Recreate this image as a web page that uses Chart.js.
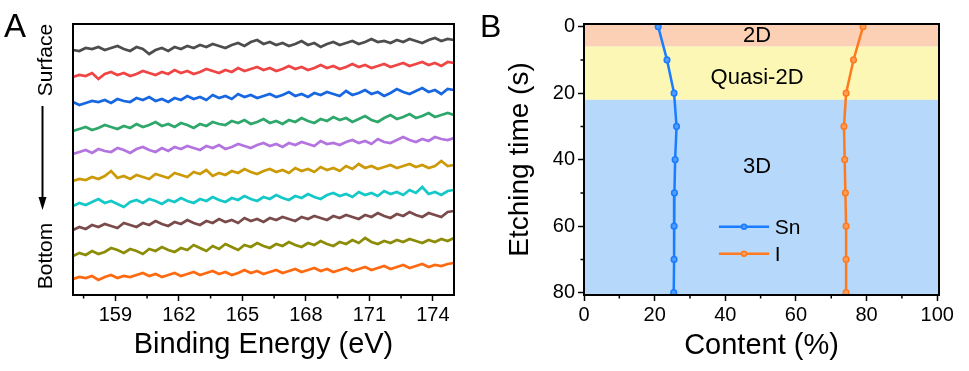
<!DOCTYPE html>
<html lang="en">
<head>
  <meta charset="UTF-8">
  <title>XPS depth profile</title>
  <script src="https://cdn.jsdelivr.net/npm/chart.js"></script>
  <style>
    body { margin: 0; background: #fff; }
    #wrap { position: relative; width: 969px; height: 371px; }
    #chartA { position: absolute; left: 0; top: 0; }
    #chartB { position: absolute; left: 480px; top: 0; }
  </style>
</head>
<body>
<div id="wrap">
  <canvas id="chartA" width="480" height="371"></canvas>
  <canvas id="chartB" width="489" height="371"></canvas>
</div>
<script>
  // ---- panel A: spectra from surface (layer1) to bottom (layer10), stacked, a.u.
  const energyStart = 157, energyStep = 0.3;
  const energyTicks = [159, 162, 165, 168, 171, 174];
  const energyMinor = [157.5, 160.5, 163.5, 166.5, 169.5, 172.5];

  const layer1 = [245,244,247,246,248,245,247,249,246,244,248,246,241,245,247,244,248,246,249,247,250,248,251,249,247,250,252,249,253,255,251,253,250,252,249,251,254,250,252,248,251,253,250,252,254,251,253,256,253,254,252,255,253,256,254,252,255,257,254,256,255];
  const layer2 = [218,220,219,222,216,221,223,220,222,219,221,224,222,220,223,221,225,222,224,221,223,226,224,222,225,223,227,224,226,228,225,227,224,226,229,226,228,225,227,230,227,229,226,228,231,228,230,227,229,231,228,230,232,229,231,233,230,232,229,233,232];
  const layer3 = [193,190,192,194,193,195,192,196,194,193,197,195,198,194,196,193,197,195,199,196,198,195,200,197,199,196,201,198,200,197,199,201,198,200,203,199,201,198,202,200,203,201,199,204,200,202,205,201,203,199,202,206,203,201,204,207,203,205,201,206,205];
  const layer4 = [164,166,168,165,167,170,168,166,169,167,171,168,170,173,169,171,168,172,170,167,171,169,173,171,170,174,172,175,171,173,176,172,174,171,175,173,177,174,172,176,174,178,175,177,173,176,179,175,173,177,180,176,178,181,177,179,182,178,180,182,180];
  const layer5 = [141,143,145,142,146,144,143,147,145,142,146,148,145,143,147,144,148,146,149,147,145,149,147,150,146,148,151,149,147,150,152,149,151,148,152,150,153,151,149,154,151,152,150,153,155,152,154,151,156,153,152,155,158,155,153,156,154,158,156,155,157];
  const layer6 = [114,116,115,118,116,119,124,117,119,116,120,118,116,121,119,117,122,120,118,123,121,125,119,122,120,124,122,126,123,121,124,126,123,125,122,127,124,126,123,128,125,127,124,129,126,131,127,129,126,128,130,127,129,131,128,130,127,129,134,129,130];
  const layer7 = [89,92,90,93,96,92,94,91,88,93,95,92,96,94,91,95,93,97,94,92,96,94,98,95,93,97,95,99,96,94,98,96,100,97,95,99,97,101,98,96,100,102,99,101,98,103,100,102,99,104,101,103,100,105,102,108,101,103,100,104,105];
  const layer8 = [65,68,66,70,68,71,69,67,72,70,68,72,70,74,71,69,73,71,75,72,70,74,72,76,73,75,72,77,74,76,73,77,75,78,76,74,78,76,79,77,75,79,77,80,78,76,80,78,82,79,77,81,79,83,80,78,82,80,78,83,84];
  const layer9 = [39,42,40,44,41,43,47,45,42,46,44,41,46,44,48,45,43,47,45,50,47,44,49,46,51,48,45,50,48,52,49,47,51,49,53,50,48,52,50,54,51,49,53,51,55,52,57,53,51,54,52,55,53,56,54,52,55,53,56,54,57];
  const layer10 = [16,18,17,19,15,18,20,17,19,18,20,22,19,21,18,20,22,19,21,23,20,22,24,21,23,20,22,25,22,24,21,23,25,22,24,26,23,25,27,24,26,23,25,27,24,26,28,25,27,29,26,28,30,27,29,31,28,30,29,31,32];

  const layers = [layer1, layer2, layer3, layer4, layer5, layer6, layer7, layer8, layer9, layer10];
  const layerColors = ['#4d4d4d', '#f04545', '#1767e0', '#2ea86a', '#b474e0',
                       '#cc9a06', '#14c8c8', '#7b4b4b', '#8c8c06', '#ff6a10'];

  // ---- panel B: composition vs etching time
  const etchTimes = [0, 10, 20, 30, 40, 50, 60, 70, 80];
  const snContent = [21, 23.5, 25.5, 26.2, 25.8, 25.6, 25.5, 25.5, 25.4];
  const iContent = [79, 76.3, 74.2, 73.6, 73.8, 74.0, 74.2, 74.2, 74.2];
  const contentTicks = [0, 20, 40, 60, 80, 100];
  const contentMinor = [10, 30, 50, 70, 90];
  const timeTicks = [0, 20, 40, 60, 80];
  const timeMinor = [10, 30, 50, 70];
  const bandEdges = [6, 22];
  const bandNames = ['2D', 'Quasi-2D', '3D'];
  const bandColors = ['#fbd0b4', '#fdf7b5', '#b5d8fb'];

  Chart.defaults.font.family = '"Liberation Sans", Arial, sans-serif';
  Chart.defaults.color = '#000';

  const minorTicks = {
    id: 'minorTicks',
    afterDraw(chart, args, opts) {
      const { ctx, chartArea: a, scales } = chart;
      ctx.save();
      ctx.strokeStyle = '#000';
      ctx.lineWidth = 1.5;
      ctx.beginPath();
      (opts.x || []).forEach(v => {
        const px = scales.x.getPixelForValue(v);
        ctx.moveTo(px, a.bottom); ctx.lineTo(px, a.bottom + 3.5);
      });
      (opts.y || []).forEach(v => {
        const py = scales.y.getPixelForValue(v);
        ctx.moveTo(a.left, py); ctx.lineTo(a.left - 3.5, py);
      });
      ctx.stroke();
      ctx.restore();
    }
  };

  const frame = {
    id: 'frame',
    afterDraw(chart) {
      const { ctx, chartArea: a } = chart;
      ctx.save();
      ctx.strokeStyle = '#000';
      ctx.lineWidth = 2;
      ctx.strokeRect(a.left, a.top, a.width, a.height);
      ctx.restore();
    }
  };

  const sideNotes = {
    id: 'sideNotes',
    afterDraw(chart) {
      const ctx = chart.ctx;
      ctx.save();
      ctx.fillStyle = '#000';
      ctx.font = '33px "Liberation Sans", Arial, sans-serif';
      ctx.textBaseline = 'alphabetic';
      ctx.fillText('A', 4, 37);
      ctx.font = '21px "Liberation Sans", Arial, sans-serif';
      ctx.textAlign = 'center';
      [['Surface', 60], ['Bottom', 256]].forEach(([t, yc]) => {
        ctx.save();
        ctx.translate(52, yc);
        ctx.rotate(-Math.PI / 2);
        ctx.fillText(t, 0, 0);
        ctx.restore();
      });
      ctx.strokeStyle = '#000';
      ctx.lineWidth = 2;
      ctx.beginPath();
      ctx.moveTo(42.5, 106); ctx.lineTo(42.5, 200);
      ctx.stroke();
      ctx.beginPath();
      ctx.moveTo(38.5, 197); ctx.lineTo(46.5, 197); ctx.lineTo(42.5, 210);
      ctx.closePath();
      ctx.fill();
      ctx.restore();
    }
  };

  const energies = layer1.map((_, i) => +(energyStart + i * energyStep).toFixed(2));

  new Chart(document.getElementById('chartA'), {
    type: 'line',
    data: {
      datasets: layers.map((ys, i) => ({
        data: ys.map((y, j) => ({ x: energies[j], y })),
        borderColor: layerColors[i],
        borderWidth: 2.7,
        pointRadius: 0
      }))
    },
    options: {
      responsive: false,
      animation: false,
      layout: { padding: { left: 73, right: 26, top: 24, bottom: 0 } },
      plugins: {
        legend: { display: false },
        tooltip: { enabled: false },
        minorTicks: { x: energyMinor }
      },
      scales: {
        x: {
          type: 'linear', min: 157, max: 175,
          afterBuildTicks: s => { s.ticks = energyTicks.map(v => ({ value: v })); },
          afterFit: s => { s.height = 76; },
          grid: { drawOnChartArea: false, tickLength: 6, tickWidth: 1.5, color: '#000' },
          border: { display: false },
          ticks: { font: { size: 20 }, padding: 2, maxRotation: 0, autoSkip: false },
          title: { display: true, text: 'Binding Energy (eV)', font: { size: 29 }, padding: { top: 0, bottom: 9 } }
        },
        y: { display: false, min: 0, max: 271 }
      }
    },
    plugins: [minorTicks, frame, sideNotes]
  });

  const bands = {
    id: 'bands',
    beforeDatasetsDraw(chart) {
      const { ctx, chartArea: a, scales: { x, y } } = chart;
      const edges = [y.min, ...bandEdges, y.max];
      ctx.save();
      bandNames.forEach((name, i) => {
        const top = y.getPixelForValue(edges[i]);
        const bot = y.getPixelForValue(edges[i + 1]);
        ctx.fillStyle = bandColors[i];
        ctx.fillRect(a.left, top, a.width, bot - top);
      });
      ctx.fillStyle = '#000';
      ctx.font = '22px "Liberation Sans", Arial, sans-serif';
      ctx.textAlign = 'center';
      ctx.textBaseline = 'middle';
      const labelTimes = [2.9, 15.5, 42.2];
      bandNames.forEach((name, i) => {
        ctx.fillText(name, x.getPixelForValue(49), y.getPixelForValue(labelTimes[i]));
      });
      ctx.restore();
    }
  };

  const innerLegend = {
    id: 'innerLegend',
    afterDatasetsDraw(chart) {
      const { ctx, scales: { x, y } } = chart;
      const rows = [60.2, 68.3];
      ctx.save();
      ctx.font = '21px "Liberation Sans", Arial, sans-serif';
      ctx.textBaseline = 'middle';
      chart.data.datasets.forEach((ds, i) => {
        const py = y.getPixelForValue(rows[i]);
        const x0 = x.getPixelForValue(38.2), x1 = x.getPixelForValue(52.4);
        ctx.strokeStyle = ds.borderColor;
        ctx.lineWidth = 2.5;
        ctx.beginPath(); ctx.moveTo(x0, py); ctx.lineTo(x1, py); ctx.stroke();
        ctx.fillStyle = ds.pointBackgroundColor;
        ctx.lineWidth = 1.5;
        ctx.beginPath(); ctx.arc((x0 + x1) / 2, py, 2.5, 0, Math.PI * 2); ctx.fill(); ctx.stroke();
        ctx.fillStyle = '#000';
        ctx.fillText(ds.label, x.getPixelForValue(54), py + 1);
      });
      ctx.restore();
    }
  };

  new Chart(document.getElementById('chartB'), {
    type: 'scatter',
    data: {
      datasets: [
        {
          label: 'Sn',
          data: etchTimes.map((t, i) => ({ x: snContent[i], y: t })),
          showLine: true, borderColor: '#1a7cff', borderWidth: 2.5,
          pointRadius: 2.8, pointBorderWidth: 1.5,
          pointBorderColor: '#1a7cff', pointBackgroundColor: '#4f9bff'
        },
        {
          label: 'I',
          data: etchTimes.map((t, i) => ({ x: iContent[i], y: t })),
          showLine: true, borderColor: '#ff7a1f', borderWidth: 2.5,
          pointRadius: 2.8, pointBorderWidth: 1.5,
          pointBorderColor: '#ff7a1f', pointBackgroundColor: '#ff9d59'
        }
      ]
    },
    options: {
      responsive: false,
      animation: false,
      layout: { padding: { left: 0, right: 30, top: 24, bottom: 0 } },
      plugins: {
        legend: { display: false },
        tooltip: { enabled: false },
        minorTicks: { x: contentMinor, y: timeMinor }
      },
      scales: {
        x: {
          type: 'linear', min: 0, max: 100.5,
          afterBuildTicks: s => { s.ticks = contentTicks.map(v => ({ value: v })); },
          afterFit: s => { s.height = 76; },
          grid: { drawOnChartArea: false, tickLength: 6, tickWidth: 1.5, color: '#000' },
          border: { display: false },
          ticks: { font: { size: 20 }, padding: 2, maxRotation: 0, autoSkip: false },
          title: { display: true, text: 'Content (%)', font: { size: 29 }, padding: { top: 0, bottom: 8 } }
        },
        y: {
          type: 'linear', min: -0.8, max: 80.7, reverse: true,
          afterBuildTicks: s => { s.ticks = timeTicks.map(v => ({ value: v })); },
          afterFit: s => { s.width = 104; },
          grid: { drawOnChartArea: false, tickLength: 6, tickWidth: 1.5, color: '#000' },
          border: { display: false },
          ticks: { font: { size: 20 }, padding: 3, autoSkip: false },
          title: { display: true, text: 'Etching time (s)', font: { size: 28 }, padding: { top: 23, bottom: 0 } }
        }
      }
    },
    plugins: [bands, minorTicks, frame, {
      id: 'letterB',
      afterDraw(chart) {
        const ctx = chart.ctx;
        ctx.save();
        ctx.fillStyle = '#000';
        ctx.font = '32px "Liberation Sans", Arial, sans-serif';
        ctx.fillText('B', 0, 37);
        ctx.restore();
      }
    }, innerLegend]
  });
</script>
</body>
</html>
